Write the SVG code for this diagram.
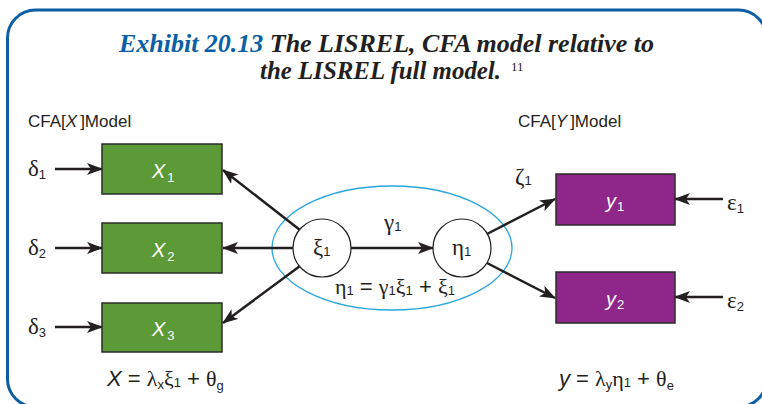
<svg xmlns="http://www.w3.org/2000/svg" width="762" height="404" viewBox="0 0 762 404">
  <defs>
    <marker id="arrow" viewBox="0 0 16 12" markerWidth="16" markerHeight="12" refX="15" refY="6" orient="auto" markerUnits="userSpaceOnUse">
      <path d="M0,0 L16,6 L0,12 L4,6 z" fill="#231f20"/>
    </marker>
    <style>
      .frame { fill: none; stroke: #0b5fa5; stroke-width: 3; }
      .title { font-family: "Liberation Serif", serif; font-weight: bold; font-style: italic; font-size: 26px; fill: #231f20; }
      .num { fill: #0b5fa5; }
      .note { font-family: "Liberation Serif", serif; font-size: 13px; fill: #231f20; }
      .cap { font-family: "Liberation Sans", sans-serif; font-size: 17px; fill: #231f20; }
      .lbl { font-family: "Liberation Serif", serif; font-size: 23px; fill: #231f20; }
      .eq { font-family: "Liberation Serif", serif; font-size: 22px; fill: #231f20; }
      .sans { font-family: "Liberation Sans", sans-serif; }
      .sub { font-family: "Liberation Sans", sans-serif; font-size: 13px; }
      .boxtxt { font-family: "Liberation Sans", sans-serif; font-size: 20px; fill: #ffffff; font-style: italic; }
      .xbox { fill: #5b9a36; stroke: #2b2b2b; stroke-width: 1.5; }
      .ybox { fill: #8f2689; stroke: #2b2b2b; stroke-width: 1.5; }
      .latent { fill: #ffffff; stroke: #231f20; stroke-width: 1.2; }
      .scope { fill: none; stroke: #2aa6df; stroke-width: 1.3; }
      .edge { stroke: #231f20; stroke-width: 2.5; fill: none; marker-end: url(#arrow); }
    </style>
  </defs>

  <!-- outer frame -->
  <rect class="frame" x="7.5" y="10" width="759" height="397" rx="28" ry="28"/>

  <!-- heading -->
  <text class="title" x="119" y="52" textLength="535" lengthAdjust="spacingAndGlyphs"><tspan class="num">Exhibit 20.13</tspan>  The LISREL, CFA model relative to</text>
  <text class="title" x="260" y="79" textLength="241" lengthAdjust="spacingAndGlyphs">the LISREL full model.</text>
  <text class="note" x="511" y="71">11</text>

  <!-- section captions -->
  <text class="cap" x="28" y="127">CFA[<tspan font-style="italic">X</tspan><tspan dx="3">]Model</tspan></text>
  <text class="cap" x="518" y="127">CFA[<tspan font-style="italic">Y</tspan><tspan dx="3">]Model</tspan></text>

  <!-- structural scope -->
  <ellipse class="scope" cx="392" cy="248" rx="120" ry="62"/>

  <!-- connectors -->
  <g id="connectors">
    <line class="edge" x1="55" y1="169" x2="102" y2="169"/>
    <line class="edge" x1="55" y1="248" x2="102" y2="248"/>
    <line class="edge" x1="55" y1="327" x2="102" y2="327"/>
    <line class="edge" x1="300" y1="230" x2="223" y2="170"/>
    <line class="edge" x1="293" y1="248" x2="223" y2="248"/>
    <line class="edge" x1="300" y1="266" x2="223" y2="323"/>
    <line class="edge" x1="351" y1="248" x2="433" y2="248"/>
    <line class="edge" x1="487" y1="234" x2="555" y2="199"/>
    <line class="edge" x1="487" y1="263" x2="555" y2="298"/>
    <line class="edge" x1="723" y1="199" x2="675" y2="199"/>
    <line class="edge" x1="723" y1="297" x2="675" y2="297"/>
  </g>

  <!-- error terms -->
  <g id="delta1"><text class="lbl" x="28" y="176">δ<tspan class="sub" dy="3">1</tspan></text></g>
  <g id="delta2"><text class="lbl" x="28" y="255">δ<tspan class="sub" dy="3">2</tspan></text></g>
  <g id="delta3"><text class="lbl" x="28" y="334">δ<tspan class="sub" dy="3">3</tspan></text></g>
  <g id="eps1"><text class="lbl" x="727" y="210">ε<tspan class="sub" dy="3">1</tspan></text></g>
  <g id="eps2"><text class="lbl" x="727" y="308">ε<tspan class="sub" dy="3">2</tspan></text></g>
  <g id="zeta1"><text class="lbl" x="515" y="184">ζ<tspan class="sub" dy="1">1</tspan></text></g>

  <!-- observed X indicators -->
  <g id="x1">
    <rect class="xbox" x="102" y="144" width="120" height="50"/>
    <text class="boxtxt" x="152" y="178">X<tspan class="sub" dx="2" dy="4" font-style="normal">1</tspan></text>
  </g>
  <g id="x2">
    <rect class="xbox" x="102" y="223" width="120" height="50"/>
    <text class="boxtxt" x="152" y="257">X<tspan class="sub" dx="2" dy="4" font-style="normal">2</tspan></text>
  </g>
  <g id="x3">
    <rect class="xbox" x="102" y="303" width="120" height="49"/>
    <text class="boxtxt" x="152" y="336">X<tspan class="sub" dx="2" dy="4" font-style="normal">3</tspan></text>
  </g>

  <!-- observed y indicators -->
  <g id="y1">
    <rect class="ybox" x="556" y="174" width="119" height="51"/>
    <text class="boxtxt" x="606" y="208">y<tspan class="sub" dx="1" dy="3" font-style="normal">1</tspan></text>
  </g>
  <g id="y2">
    <rect class="ybox" x="556" y="272" width="119" height="51"/>
    <text class="boxtxt" x="606" y="306">y<tspan class="sub" dx="1" dy="3" font-style="normal">2</tspan></text>
  </g>

  <!-- latent variables -->
  <g id="xi1">
    <circle class="latent" cx="322" cy="248" r="29"/>
    <text class="lbl" x="313" y="255">ξ<tspan class="sub" dy="1">1</tspan></text>
  </g>
  <g id="eta1">
    <circle class="latent" cx="462" cy="248" r="29"/>
    <text class="lbl" x="452" y="255">η<tspan class="sub" dy="1">1</tspan></text>
  </g>

  <!-- path coefficient and equations -->
  <text class="lbl" x="384" y="230">γ<tspan class="sub" dy="1">1</tspan></text>
  <text class="eq" x="335" y="294">η<tspan class="sub" dy="1">1</tspan><tspan class="sans" dy="-1"> = </tspan>γ<tspan class="sub" dy="1">1</tspan><tspan dy="-1">ξ</tspan><tspan class="sub" dy="1">1</tspan><tspan class="sans" dy="-1"> + </tspan>ξ<tspan class="sub" dy="1">1</tspan></text>
  <text class="eq" x="107" y="386"><tspan class="sans" font-style="italic">X</tspan><tspan class="sans"> = </tspan>λ<tspan class="sub" dy="3">x</tspan><tspan dy="-3">ξ</tspan><tspan class="sub" dy="1">1</tspan><tspan class="sans" dy="-1"> + </tspan>θ<tspan class="sub" dy="4">g</tspan></text>
  <text class="eq" x="559" y="386"><tspan class="sans" font-style="italic">y</tspan><tspan class="sans"> = </tspan>λ<tspan class="sub" dy="3">y</tspan><tspan dy="-3">η</tspan><tspan class="sub" dy="1">1</tspan><tspan class="sans" dy="-1"> + </tspan>θ<tspan class="sub" dy="4">e</tspan></text>
</svg>
